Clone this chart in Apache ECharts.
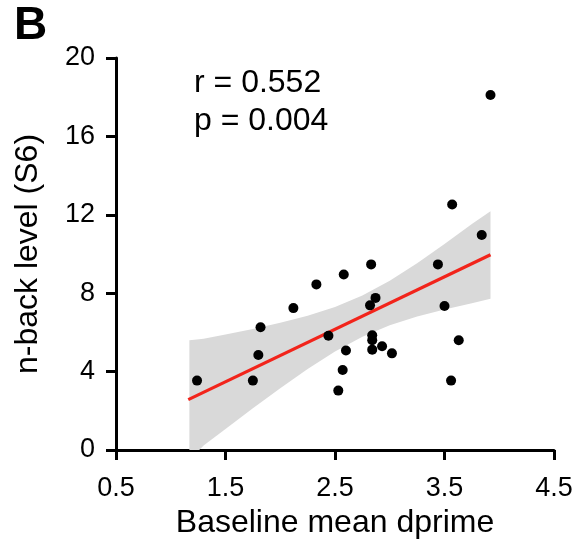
<!DOCTYPE html>
<html>
<head>
<meta charset="utf-8">
<script src="https://cdn.jsdelivr.net/npm/echarts@6/dist/echarts.min.js"></script>
<style>
html,body{margin:0;padding:0;background:#fff;}
#chart{width:584px;height:551px;}
</style>
</head>
<body>
<div id="chart"></div>
<script>
// Scatter data (Baseline mean dprime vs n-back level S6)
const dprime = [1.24, 1.75, 1.80, 1.82, 2.12, 2.33, 2.44, 2.53, 2.57, 2.58, 2.60, 2.82, 2.83, 2.87, 2.84, 2.84, 2.84, 2.93, 3.02, 3.44, 3.50, 3.56, 3.57, 3.63, 3.84, 3.92];
const nback  = [3.54, 3.54, 4.85, 6.26, 7.24, 8.45, 5.83, 3.03, 4.08, 8.95, 5.08, 7.38, 9.47, 7.76, 5.85, 5.60, 5.12, 5.29, 4.93, 9.47, 7.35, 3.54, 12.53, 5.60, 10.97, 18.11];

// Regression line endpoints
const fitX = [1.16, 3.92];
const fitY = [2.57, 9.96];

// Confidence band (lower edge clipped at 0)
const bandX     = [1.17, 1.26, 1.3, 1.5, 1.75, 2.0, 2.25, 2.5, 2.75, 3.0, 3.25, 3.5, 3.75, 3.92];
const bandUpper = [5.60, 5.65, 5.67, 5.89, 6.17, 6.49, 6.85, 7.29, 7.88, 8.63, 9.53, 10.51, 11.53, 12.18];
const bandLower = [0.00, 0.00, 0.23, 1.07, 2.13, 3.15, 4.13, 5.03, 5.78, 6.37, 6.81, 7.17, 7.49, 7.72];

// Axis ticks
const xTicks = [0.5, 1.5, 2.5, 3.5, 4.5];
const yTicks = [0, 4, 8, 12, 16, 20];

const statLines = ['r = 0.552', 'p = 0.004'];

const FONT = '"Liberation Sans", Arial, Helvetica, sans-serif';

const chart = echarts.init(document.getElementById('chart'), null, {renderer: 'canvas'});

const scatterData = dprime.map((x, i) => [x, nback[i]]);
const lineData = fitX.map((x, i) => [x, fitY[i]]);

const option = {
  animation: false,
  backgroundColor: '#fff',
  grid: {left: 116, right: 30, top: 58, bottom: 101, containLabel: false},
  xAxis: {
    type: 'value',
    min: 0.5, max: 4.5,
    name: 'Baseline mean dprime',
    nameLocation: 'middle',
    nameGap: 47,
    nameTextStyle: {fontFamily: FONT, fontSize: 32, color: '#000'},
    axisLine: {show: true, lineStyle: {color: '#000', width: 3}},
    axisTick: {show: true, length: 10, lineStyle: {color: '#000', width: 3}, customValues: xTicks},
    axisLabel: {fontFamily: FONT, fontSize: 27, color: '#000', margin: 25, customValues: xTicks,
      formatter: v => v.toFixed(1)},
    splitLine: {show: false}
  },
  yAxis: {
    type: 'value',
    min: 0, max: 20, interval: 4,
    name: 'n-back level (S6)',
    nameLocation: 'middle',
    nameGap: 72,
    nameRotate: 90,
    nameTextStyle: {fontFamily: FONT, fontSize: 32, color: '#000'},
    axisLine: {show: true, lineStyle: {color: '#000', width: 3}},
    axisTick: {show: true, length: 10, lineStyle: {color: '#000', width: 3}, customValues: yTicks},
    axisLabel: {fontFamily: FONT, fontSize: 27, color: '#000', margin: 21, customValues: yTicks},
    splitLine: {show: false}
  },
  series: [
    {
      type: 'custom',
      z: 1,
      silent: true,
      data: [[bandX[0], bandUpper[0]]],
      renderItem: function (params, api) {
        const pts = [];
        for (let i = 0; i < bandX.length; i++) pts.push(api.coord([bandX[i], bandUpper[i]]));
        for (let i = bandX.length - 1; i >= 0; i--) pts.push(api.coord([bandX[i], bandLower[i]]));
        return {
          type: 'polygon',
          shape: {points: pts, smooth: 0},
          style: {fill: '#d9d9d9', stroke: null}
        };
      }
    },
    {
      type: 'line',
      z: 3,
      data: lineData,
      symbol: 'none',
      lineStyle: {color: '#f2241b', width: 3.2},
      silent: true
    },
    {
      type: 'scatter',
      z: 4,
      data: scatterData,
      symbol: 'circle',
      symbolSize: 10,
      itemStyle: {color: '#000', opacity: 1}
    }
  ],
  graphic: [
    {type: 'text', left: 14, top: 3, style: {text: 'B', fontFamily: FONT, fontWeight: 'bold', fontSize: 46, fill: '#000'}},
    {type: 'text', x: 194, y: 83, style: {text: statLines[0], fontFamily: FONT, fontSize: 32, fill: '#000', verticalAlign: 'middle', align: 'left'}},
    {type: 'text', x: 194, y: 121, style: {text: statLines[1], fontFamily: FONT, fontSize: 32, fill: '#000', verticalAlign: 'middle', align: 'left'}}
  ]
};
chart.setOption(option);
</script>
</body>
</html>
